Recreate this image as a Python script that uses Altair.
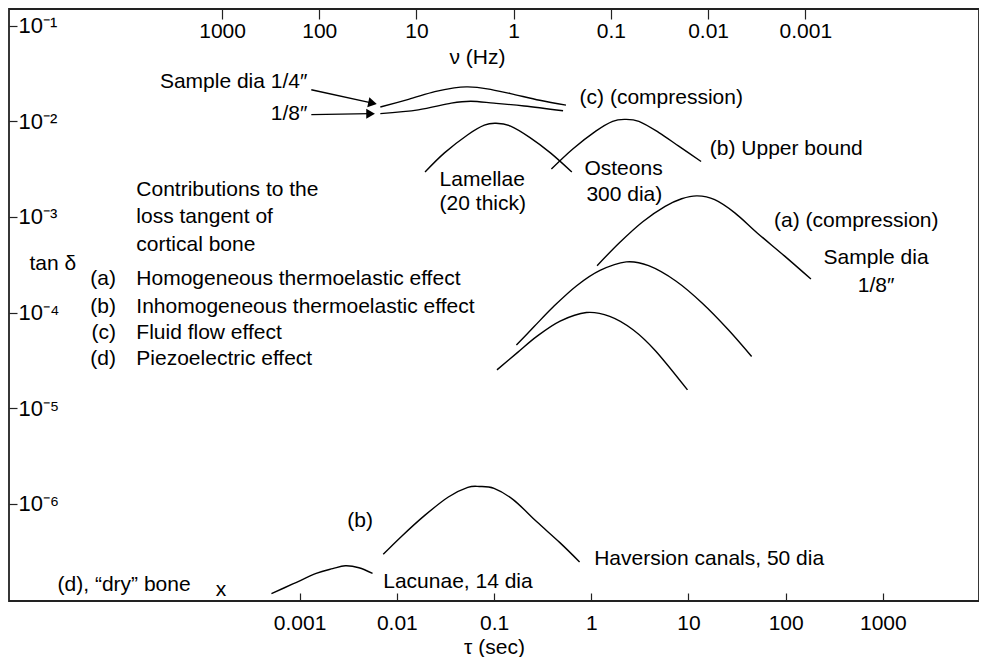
import altair as alt
import pandas as pd

# ---------------- data (log10 tau [s], log10 tan delta) -------------
a_comp_lt = [0.06, 0.29, 0.53, 0.76, 0.93, 1.09, 1.27, 1.48, 1.71, 1.99, 2.26]
a_comp_ly = [-3.51, -3.27, -3.05, -2.89, -2.81, -2.78, -2.82, -2.96, -3.17, -3.41, -3.65]

mid_lt = [-0.77, -0.59, -0.39, -0.15, 0.09, 0.36, 0.59, 0.87, 1.14, 1.41, 1.65]
mid_ly = [-4.34, -4.15, -3.94, -3.72, -3.56, -3.47, -3.51, -3.67, -3.90, -4.18, -4.46]

low_lt = [-0.97, -0.76, -0.56, -0.32, -0.05, 0.19, 0.43, 0.66, 0.99]
low_ly = [-4.60, -4.42, -4.25, -4.09, -4.00, -4.04, -4.18, -4.40, -4.81]

lam_lt = [-1.71, -1.51, -1.27, -1.10, -0.98, -0.83, -0.63, -0.42, -0.20]
lam_ly = [-2.53, -2.33, -2.14, -2.04, -2.02, -2.05, -2.17, -2.33, -2.53]

ost_lt = [-0.41, -0.19, 0.05, 0.22, 0.34, 0.49, 0.70, 0.90, 1.13]
ost_ly = [-2.50, -2.29, -2.10, -2.00, -1.98, -2.00, -2.12, -2.26, -2.42]

c14_lt = [-2.17, -1.88, -1.61, -1.41, -1.27, -1.07, -0.83, -0.53, -0.26]
c14_ly = [-1.85, -1.77, -1.69, -1.65, -1.64, -1.66, -1.71, -1.78, -1.83]

c18_lt = [-2.17, -1.78, -1.44, -1.24, -1.00, -0.69, -0.29]
c18_ly = [-1.92, -1.88, -1.81, -1.79, -1.81, -1.84, -1.89]

hav_lt = [-2.14, -1.95, -1.71, -1.47, -1.27, -1.15, -1.00, -0.80, -0.56, -0.32, -0.12]
hav_ly = [-6.53, -6.34, -6.12, -5.93, -5.83, -5.82, -5.84, -5.96, -6.19, -6.41, -6.61]

lac_lt = [-3.29, -3.07, -2.83, -2.66, -2.53, -2.39, -2.25]
lac_ly = [-6.94, -6.84, -6.73, -6.68, -6.65, -6.67, -6.73]

# axis ticks
tau_ticks = [0.001, 0.01, 0.1, 1, 10, 100, 1000]
nu_ticks = [1000, 100, 10, 1, 0.1, 0.01, 0.001]
tan_ticks = [1e-1, 1e-2, 1e-3, 1e-4, 1e-5, 1e-6]

# annotations (text, log10 tau, log10 tan delta)
left_texts = [
    ("(c) (compression)", -0.12, -1.76),
    ("(b) Upper bound", 1.22, -2.29),
    ("Lamellae", -1.56, -2.61),
    ("(20 thick)", -1.56, -2.86),
    ("Osteons", -0.07, -2.50),
    ("300 dia)", -0.05, -2.77),
    ("Contributions to the", -4.68, -2.72),
    ("loss tangent of", -4.68, -3.00),
    ("cortical bone", -4.68, -3.29),
    ("Homogeneous thermoelastic effect", -4.68, -3.65),
    ("Inhomogeneous thermoelastic effect", -4.68, -3.94),
    ("Fluid flow effect", -4.68, -4.21),
    ("Piezoelectric effect", -4.68, -4.49),
    ("tan δ", -5.78, -3.49),
    ("(a) (compression)", 1.88, -3.04),
    ("(b)", -2.51, -6.18),
    ("Haversion canals, 50 dia", 0.03, -6.58),
    ("(d), “dry” bone", -5.49, -6.85),
    ("Lacunae, 14 dia", -2.14, -6.82),
]
right_texts = [
    ("Sample dia  1/4″", -2.92, -1.59),
    ("1/8″", -2.92, -1.92),
    ("(a)", -4.89, -3.65),
    ("(b)", -4.89, -3.94),
    ("(c)", -4.89, -4.21),
    ("(d)", -4.89, -4.49),
]
center_texts = [
    ("Sample dia", 2.93, -3.43),
    ("1/8″", 2.93, -3.72),
    ("x", -3.81, -6.90),
]
# arrows: start (lt, ly) -> end (lt, ly)
arrow_start_lt = [-2.88, -2.88]
arrow_start_ly = [-1.67, -1.93]
arrow_end_lt = [-2.25, -2.27]
arrow_end_ly = [-1.81, -1.92]
arrow_angle = [12, 0]

# ---------------------------------------------------------------------------
FONT = "Liberation Sans"
FS = 21
TX_DOMAIN = [10 ** -5.99, 10 ** 3.989]
TY_DOMAIN = [10 ** -7.018, 10 ** -0.825]
NU_DOMAIN = [10 ** -4.787, 10 ** 5.192]

curves = [
    ("a", a_comp_lt, a_comp_ly), ("mid", mid_lt, mid_ly), ("low", low_lt, low_ly),
    ("lam", lam_lt, lam_ly), ("ost", ost_lt, ost_ly), ("c14", c14_lt, c14_ly),
    ("c18", c18_lt, c18_ly), ("hav", hav_lt, hav_ly), ("lac", lac_lt, lac_ly),
]
rows = []
for name, lt, ly in curves:
    for i, (u, v) in enumerate(zip(lt, ly)):
        rows.append({"curve": name, "i": i, "tau": 10 ** u, "tan": 10 ** v})
df_curves = pd.DataFrame(rows)


def text_df(items):
    return pd.DataFrame([{"label": s, "tau": 10 ** u, "tan": 10 ** v} for s, u, v in items])


x_scale = alt.Scale(type="log", domain=TX_DOMAIN, nice=False)
y_scale = alt.Scale(type="log", domain=TY_DOMAIN, nice=False)

x_axis = alt.Axis(
    values=tau_ticks, format="~g", orient="bottom", domain=False, grid=False,
    tickSize=8, offset=-8, tickColor="#222", tickWidth=1.2,
    labelFontSize=FS, labelFont=FONT, labelColor="black", labelPadding=22,
    labelBaseline="middle", labelFlush=False,
    title="τ (sec)", titleFontSize=FS, titleFont=FONT, titleFontWeight="normal",
    titleColor="black", titleY=54, titleBaseline="middle",
)
y_axis = alt.Axis(
    values=tan_ticks, orient="left", domain=False, grid=False,
    tickSize=8, offset=-8, tickColor="#222", tickWidth=1.2,
    labelAlign="left", labelPadding=-9, labelBaseline="middle", labelFlush=False,
    labelFontSize=FS + 1, labelFont=FONT, labelColor="black",
    labelExpr="{'-1':'10⁻¹','-2':'10⁻²','-3':'10⁻³','-4':'10⁻⁴','-5':'10⁻⁵','-6':'10⁻⁶'}[''+round(log(datum.value)/LN10)]",
)

X = alt.X("tau:Q", scale=x_scale, axis=x_axis)
Y = alt.Y("tan:Q", scale=y_scale, axis=y_axis, title=None)

curve_layer = alt.Chart(df_curves).mark_line(
    color="black", strokeWidth=1.4, interpolate="cardinal"
).encode(x=X, y=Y, detail="curve:N", order="i:Q")

df_arrows = pd.DataFrame({
    "tau": [10 ** v for v in arrow_start_lt], "tan": [10 ** v for v in arrow_start_ly],
    "tau2": [10 ** v for v in arrow_end_lt], "tan2": [10 ** v for v in arrow_end_ly],
    "angle": arrow_angle,
})
arrow_lines = alt.Chart(df_arrows).mark_rule(color="black", strokeWidth=1.4).encode(
    x=X, y=Y, x2="tau2:Q", y2="tan2:Q"
)
arrow_heads = alt.Chart(df_arrows).mark_point(
    shape="triangle-right", filled=True, color="black", size=100, opacity=1
).encode(
    x=alt.X("tau2:Q", scale=x_scale, axis=x_axis),
    y=alt.Y("tan2:Q", scale=y_scale, axis=y_axis, title=None),
    angle=alt.Angle("angle:Q", scale=None),
)


def text_layer(items, align):
    return alt.Chart(text_df(items)).mark_text(
        align=align, baseline="middle", font=FONT, fontSize=FS, color="black"
    ).encode(x=X, y=Y, text="label:N")


main = alt.layer(
    curve_layer, arrow_lines, arrow_heads,
    text_layer(left_texts, "left"), text_layer(right_texts, "right"),
    text_layer(center_texts, "center"),
)

df_nu = pd.DataFrame({"nu": [nu_ticks[0], nu_ticks[-1]], "tan": [1e-3, 1e-3]})
nu_layer = alt.Chart(df_nu).mark_point(opacity=0).encode(
    x=alt.X("nu:Q", scale=alt.Scale(type="log", domain=NU_DOMAIN, reverse=True, nice=False),
            axis=alt.Axis(
                values=nu_ticks, format="~g", orient="top", domain=False, grid=False,
                tickSize=10, offset=-10, tickColor="#222", tickWidth=1.2,
                labelFontSize=FS, labelFont=FONT, labelColor="black",
                labelPadding=-22, labelBaseline="middle", labelFlush=False,
                title="ν (Hz)", titleFontSize=FS, titleFont=FONT, titleFontWeight="normal",
                titleColor="black", titleX=468, titleY=38, titleBaseline="middle",
            )),
    y=Y,
)

chart = alt.layer(main, nu_layer).resolve_scale(x="independent").properties(
    width=970, height=592, padding=0
).configure_view(stroke="#222", strokeWidth=1.8)

chart.save("out.html", embed_options={"renderer": "svg", "actions": False})
